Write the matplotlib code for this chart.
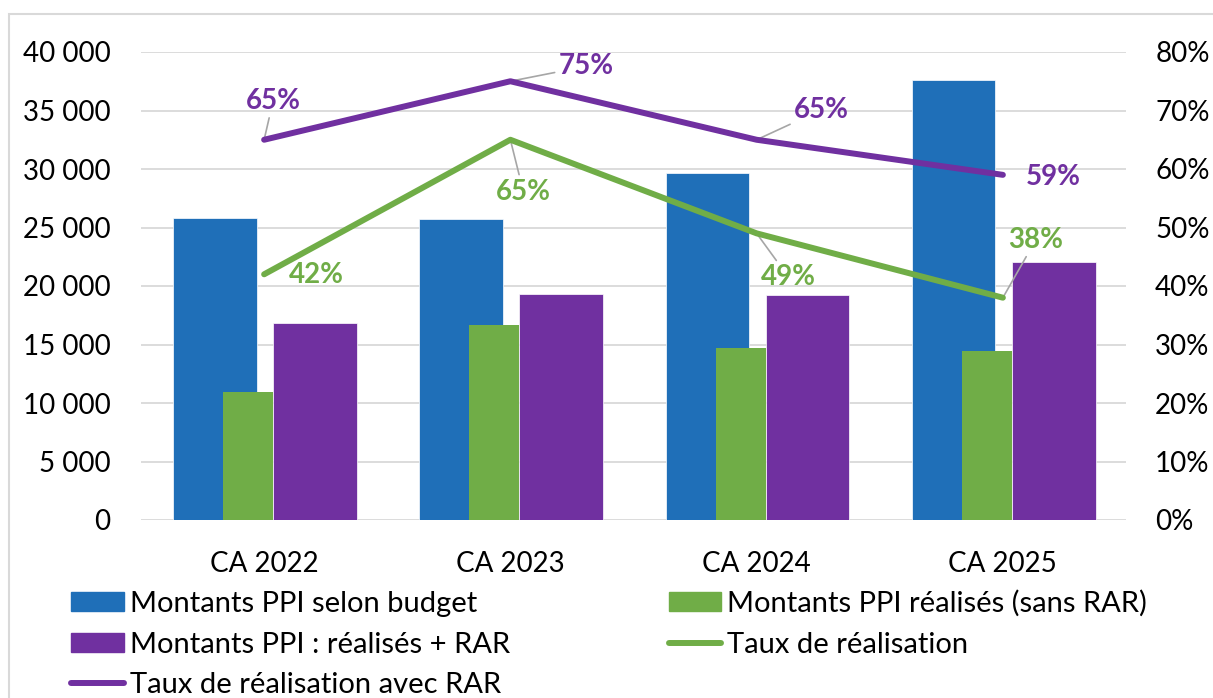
import numpy as np
import matplotlib
matplotlib.use('Agg')
from matplotlib import pyplot as plt
from matplotlib.patches import Rectangle
from matplotlib.lines import Line2D
from matplotlib.ticker import FuncFormatter

categories = ['CA 2022', 'CA 2023', 'CA 2024', 'CA 2025']
budget = [25800, 25750, 29700, 37600]
realises = [10900, 16700, 14700, 14450]
realises_rar = [16800, 19300, 19250, 22050]
taux = [0.42, 0.65, 0.49, 0.38]
taux_rar = [0.65, 0.75, 0.65, 0.59]

# label offsets in pixels (dx, dy), and whether a leader line is drawn
taux_offsets = [(52, -1, False), (13, -52, True), (32, -44, True), (33, 58, True)]
taux_rar_offsets = [(9, 39, True), (76, 15, True), (65, 30, True), (50, -2, False)]

BLUE = '#1F6FB8'
GREEN = '#70AD47'
PURPLE = '#7030A0'
GRID = '#D9D9D9'

plt.rcParams['font.family'] = ['Lato', 'DejaVu Sans']
FS = 20
LFS = 21

fig = plt.figure(figsize=(12.13, 6.98), dpi=100)
fig.patches.append(Rectangle((9 / 1213, -0.1), 1.5, 1 - 14 / 698 + 0.1, transform=fig.transFigure,
                             fill=False, edgecolor=GRID, linewidth=1.5))
ax = fig.add_axes([141 / 1213, 1 - 520 / 698, 985 / 1213, 468 / 698])
ax2 = ax.twinx()

x = np.arange(len(categories))
ax.bar(x - 0.2, budget, width=0.34, color=BLUE, edgecolor='white', linewidth=0.5, zorder=2)
ax.bar(x - 0.065, realises, width=0.204, color=GREEN, zorder=3)
ax.bar(x + 0.207, realises_rar, width=0.34, color=PURPLE, edgecolor='white', linewidth=0.5, zorder=2)

ax.set_xlim(-0.5, len(categories) - 0.5)
ax.set_ylim(0, 40000)
ax.set_yticks(np.arange(0, 40001, 5000))
ax.yaxis.set_major_formatter(FuncFormatter(lambda v, p: f'{int(v):,}'.replace(',', ' ')))
ax.grid(axis='y', color=GRID, linewidth=1.3, zorder=0)
ax.set_axisbelow(True)
ax.set_xticks(x)
ax.set_xticklabels(categories)
for s in ax.spines.values():
    s.set_visible(False)
for s in ax2.spines.values():
    s.set_visible(False)
ax.tick_params(axis='both', length=0, labelsize=FS)
ax.tick_params(axis='y', pad=22)
ax.tick_params(axis='x', pad=22)

ax2.set_ylim(0, 0.8)
ax2.set_yticks(np.arange(0, 0.81, 0.1))
ax2.yaxis.set_major_formatter(FuncFormatter(lambda v, p: f'{round(v * 100)}%'))
ax2.tick_params(axis='y', length=0, labelsize=FS, pad=21)

ax2.plot(x, taux, color=GREEN, linewidth=4.3, solid_capstyle='round', solid_joinstyle='round', zorder=4)
ax2.plot(x, taux_rar, color=PURPLE, linewidth=4.3, solid_capstyle='round', solid_joinstyle='round', zorder=4)

for xi, v, (dx, dy, lead) in zip(x, taux, taux_offsets):
    ax2.annotate(f'{round(v * 100)}%', (xi, v), xytext=(dx, dy), textcoords='offset pixels',
                 ha='center', va='center', fontsize=FS, fontweight='bold', color=GREEN,
                 arrowprops=dict(arrowstyle='-', color='#A6A6A6', lw=1.2, shrinkA=1, shrinkB=0) if lead else None)
for xi, v, (dx, dy, lead) in zip(x, taux_rar, taux_rar_offsets):
    ax2.annotate(f'{round(v * 100)}%', (xi, v), xytext=(dx, dy), textcoords='offset pixels',
                 ha='center', va='center', fontsize=FS, fontweight='bold', color=PURPLE,
                 arrowprops=dict(arrowstyle='-', color='#A6A6A6', lw=1.2, shrinkA=1, shrinkB=0) if lead else None)

handles = [
    Rectangle((0, 0), 1, 1, color=BLUE),
    Rectangle((0, 0), 1, 1, color=PURPLE),
    Line2D([], [], color=PURPLE, linewidth=4.3, solid_capstyle='round'),
    Rectangle((0, 0), 1, 1, color=GREEN),
    Line2D([], [], color=GREEN, linewidth=4.3, solid_capstyle='round'),
]
labels = ['Montants PPI selon budget', 'Montants PPI : réalisés + RAR', 'Taux de réalisation avec RAR',
          'Montants PPI réalisés (sans RAR)', 'Taux de réalisation']
fig.legend(handles, labels, ncol=2, loc='upper left', bbox_to_anchor=(45 / 1213, 1 - 564 / 698),
           frameon=False, fontsize=LFS, handlelength=1.8, handleheight=0.62, handletextpad=0.2,
           labelspacing=0.5, columnspacing=5.45)

fig.savefig('out.png', dpi=100)
